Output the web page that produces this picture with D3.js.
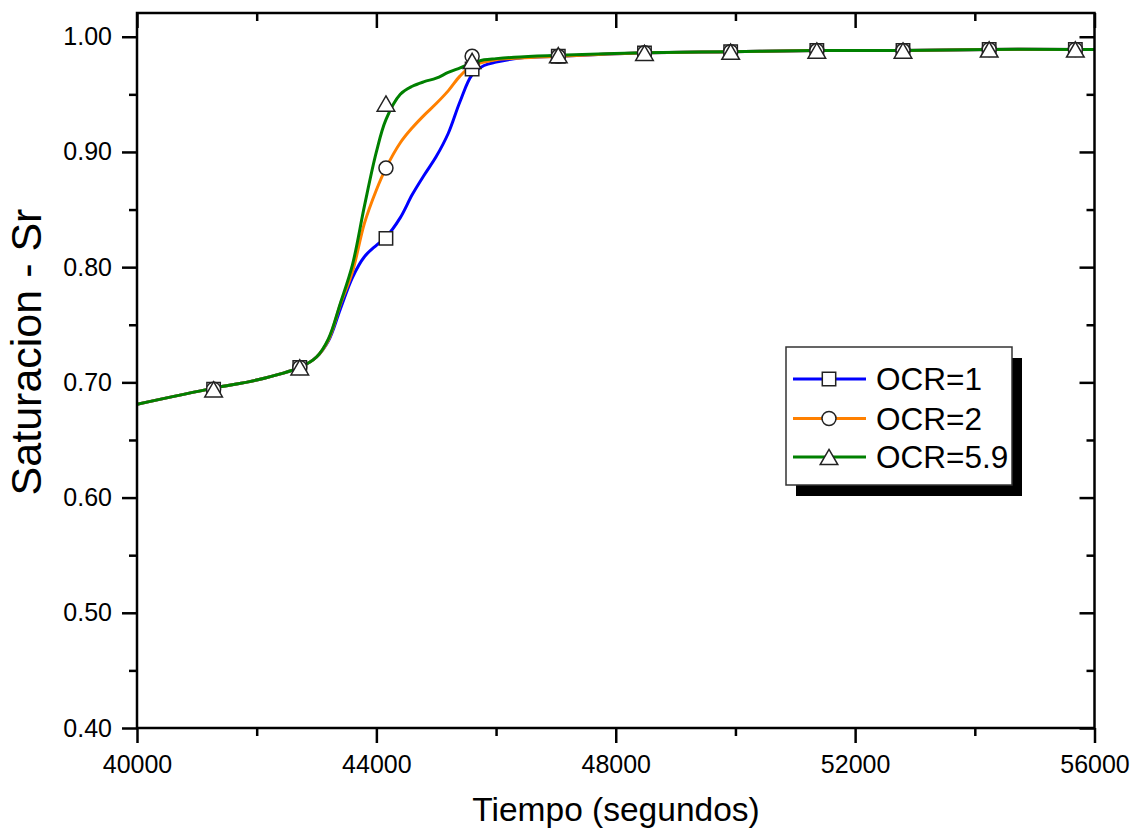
<!DOCTYPE html>
<html>
<head>
<meta charset="utf-8">
<script src="https://cdn.jsdelivr.net/npm/d3@7"></script>
<style>
  html, body { margin: 0; padding: 0; background: #fff; }
  svg { display: block; font-family: "Liberation Sans", Arial, sans-serif; }
</style>
</head>
<body>
<svg id="chart" width="1135" height="828"></svg>
<script>
// ---- data ----
const lineTimes = [40000, 41280, 42000, 42720, 43000, 43200, 43400, 43600, 43800, 44000, 44160, 44400, 44600, 44800, 45000, 45200, 45400, 45600, 45800, 46000, 46400, 47040, 48480, 49920, 51360, 52800, 54240, 55680, 56000];
const ocr1Line  = [0.681, 0.695, 0.702, 0.713, 0.722, 0.736, 0.764, 0.791, 0.809, 0.819, 0.826, 0.843, 0.863, 0.880, 0.896, 0.916, 0.944, 0.967, 0.975, 0.978, 0.9815, 0.983, 0.986, 0.987, 0.988, 0.988, 0.989, 0.989, 0.989];
const ocr2Line  = [0.681, 0.695, 0.702, 0.713, 0.722, 0.737, 0.768, 0.796, 0.838, 0.867, 0.886, 0.908, 0.921, 0.932, 0.942, 0.953, 0.966, 0.975, 0.978, 0.980, 0.9815, 0.983, 0.986, 0.987, 0.988, 0.988, 0.989, 0.989, 0.989];
const ocr59Line = [0.681, 0.695, 0.702, 0.713, 0.722, 0.738, 0.769, 0.802, 0.853, 0.900, 0.928, 0.950, 0.957, 0.961, 0.964, 0.969, 0.973, 0.977, 0.980, 0.981, 0.9825, 0.984, 0.986, 0.987, 0.988, 0.988, 0.989, 0.989, 0.989];

const markerTimes = [41280, 42720, 44160, 45600, 47040, 48480, 49920, 51360, 52800, 54240, 55680];
const ocr1Markers  = [0.694, 0.713, 0.825, 0.972, 0.983, 0.986, 0.987, 0.988, 0.988, 0.989, 0.989];
const ocr2Markers  = [0.694, 0.713, 0.886, 0.983, 0.983, 0.986, 0.987, 0.988, 0.988, 0.989, 0.989];
const ocr59Markers = [0.694, 0.713, 0.942, 0.979, 0.984, 0.986, 0.987, 0.988, 0.988, 0.989, 0.989];

const seriesNames = ["OCR=1", "OCR=2", "OCR=5.9"];
const xTicks = [40000, 44000, 48000, 52000, 56000];
const xMinorTicks = [42000, 46000, 50000, 54000];
const yTicks = [0.40, 0.50, 0.60, 0.70, 0.80, 0.90, 1.00];
const yMinorTicks = [0.45, 0.55, 0.65, 0.75, 0.85, 0.95];
const xTitle = "Tiempo (segundos)";
const yTitle = "Saturacion - Sr";

// ---- setup ----
const colors = ["#0000ff", "#ff8000", "#008000"];
const shapes = ["square", "circle", "triangle"];
const lineSets = [ocr1Line, ocr2Line, ocr59Line];
const markerSets = [ocr1Markers, ocr2Markers, ocr59Markers];

const svg = d3.select("#chart");
const L = 137, R = 1094.5, T = 13, B = 728;
const x = d3.scaleLinear().domain([40000, 56000]).range([L, R]);
const y = d3.scaleLinear().domain([0.40, 1.0206]).range([B, T]);

const plot = svg.append("g");
svg.append("defs").append("clipPath").attr("id", "clip")
  .append("rect").attr("x", L).attr("y", T).attr("width", R - L + 6).attr("height", B - T);

// lines
const line = d3.line().x(d => x(d[0])).y(d => y(d[1])).curve(d3.curveCatmullRom.alpha(0.5));
lineSets.forEach((vals, i) => {
  plot.append("path")
    .datum(lineTimes.map((t, j) => [t, vals[j]]))
    .attr("d", line)
    .attr("fill", "none")
    .attr("stroke", colors[i])
    .attr("stroke-width", 3)
    .attr("clip-path", "url(#clip)");
});

function markerPath(shape) {
  if (shape === "square") { const s = 6.7; return `M${-s},${-s}H${s}V${s}H${-s}Z`; }
  if (shape === "circle") { const r = 7; return `M${r},0A${r},${r} 0 1,1 ${-r},0A${r},${r} 0 1,1 ${r},0Z`; }
  const w = 8.8, h = 7.6; return `M0,${-h}L${w},${h}L${-w},${h}Z`;
}

markerSets.forEach((vals, i) => {
  plot.selectAll(null)
    .data(markerTimes.map((t, j) => [t, vals[j]]))
    .enter().append("path")
    .attr("d", markerPath(shapes[i]))
    .attr("transform", d => `translate(${x(d[0])},${y(d[1])})`)
    .attr("fill", "#fff")
    .attr("stroke", "#222")
    .attr("stroke-width", 1.5);
});

// axes
const fs = 25;
svg.append("g").attr("transform", `translate(0,${B})`)
  .call(d3.axisBottom(x).tickValues(xTicks).tickSize(15).tickFormat(d3.format("d")).tickPadding(12));
svg.append("g").attr("transform", `translate(0,${B})`)
  .call(d3.axisBottom(x).tickValues(xMinorTicks).tickSize(8).tickFormat(""));
svg.append("g").attr("transform", `translate(${L},0)`)
  .call(d3.axisLeft(y).tickValues(yTicks).tickSize(15).tickFormat(d3.format(".2f")).tickPadding(10));
svg.append("g").attr("transform", `translate(${L},0)`)
  .call(d3.axisLeft(y).tickValues(yMinorTicks).tickSize(8).tickFormat(""));
// top and right, inward ticks
svg.append("g").attr("transform", `translate(0,${T})`)
  .call(d3.axisBottom(x).tickValues(xTicks).tickSize(15).tickFormat(""));
svg.append("g").attr("transform", `translate(0,${T})`)
  .call(d3.axisBottom(x).tickValues(xMinorTicks).tickSize(8).tickFormat(""));
svg.append("g").attr("transform", `translate(${R},0)`)
  .call(d3.axisLeft(y).tickValues(yTicks).tickSize(15).tickFormat(""));
svg.append("g").attr("transform", `translate(${R},0)`)
  .call(d3.axisLeft(y).tickValues(yMinorTicks).tickSize(8).tickFormat(""));

svg.selectAll(".domain").remove();
svg.selectAll(".tick line").attr("stroke", "#000").attr("stroke-width", 2.5);
svg.selectAll(".tick text").attr("font-size", fs).attr("font-family", "Liberation Sans, Arial, sans-serif").attr("fill", "#000");

// frame
svg.append("rect").attr("x", L).attr("y", T).attr("width", R - L).attr("height", B - T)
  .attr("fill", "none").attr("stroke", "#000").attr("stroke-width", 2.5);

// titles
svg.append("text").attr("x", 616).attr("y", 821).attr("text-anchor", "middle")
  .attr("font-size", 33.5).text(xTitle);
svg.append("text").attr("transform", "translate(41,352) rotate(-90)").attr("text-anchor", "middle")
  .attr("font-size", 43).text(yTitle);

// legend
const lg = svg.append("g");
lg.append("rect").attr("x", 796).attr("y", 358).attr("width", 226).attr("height", 138).attr("fill", "#000");
lg.append("rect").attr("x", 786).attr("y", 347).attr("width", 226).attr("height", 138)
  .attr("fill", "#fff").attr("stroke", "#333").attr("stroke-width", 1.5);
const lgY = [379, 418.5, 457];
seriesNames.forEach((name, i) => {
  lg.append("line").attr("x1", 793).attr("x2", 866).attr("y1", lgY[i]).attr("y2", lgY[i])
    .attr("stroke", colors[i]).attr("stroke-width", 3);
  lg.append("path").attr("d", markerPath(shapes[i])).attr("transform", `translate(829,${lgY[i]})`)
    .attr("fill", "#fff").attr("stroke", "#222").attr("stroke-width", 1.5);
  lg.append("text").attr("x", 876).attr("y", lgY[i] + 11).attr("font-size", 31.5).text(name);
});
</script>
</body>
</html>
